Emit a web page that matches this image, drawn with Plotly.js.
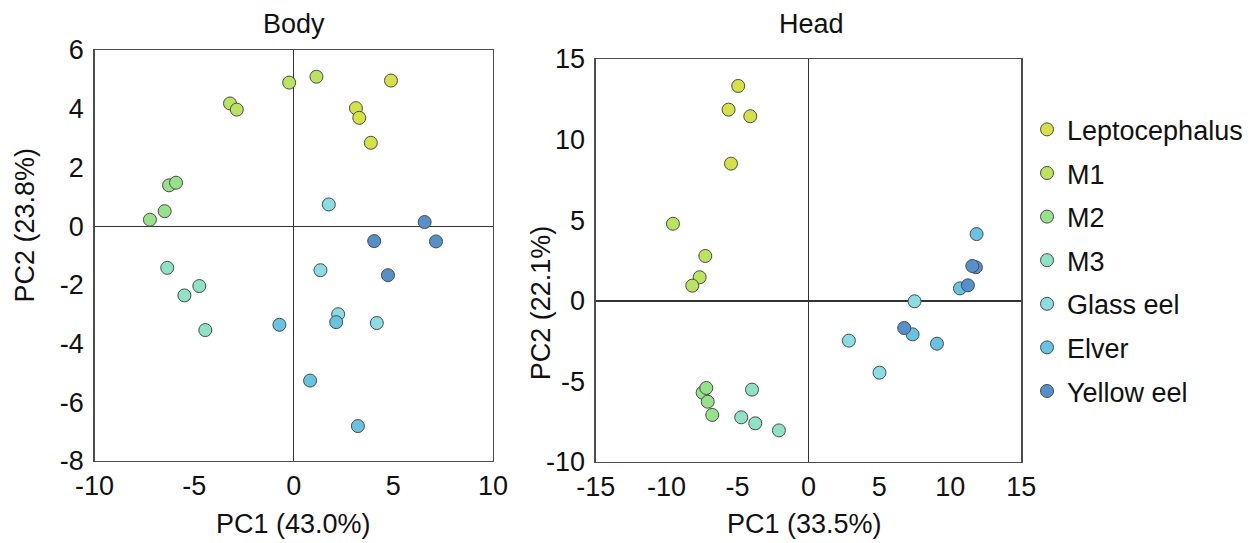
<!DOCTYPE html>
<html>
<head>
<meta charset="utf-8">
<script src="https://cdn.plot.ly/plotly-3.0.1.min.js"></script>
<style>html,body{margin:0;padding:0;background:#fff;}#chart{width:1254px;height:543px;}</style>
</head>
<body>
<div id="chart"></div>
<script>
const groups = ["Leptocephalus", "M1", "M2", "M3", "Glass eel", "Elver", "Yellow eel"];
const groupColors = ["#d6e145", "#bae35f", "#97e18a", "#8fe2c6", "#8adde2", "#68c3e3", "#5690cc"];

// Body PCA scores per group
const bodyPC1 = [
  [4.88, 3.12, 3.29, 3.87],
  [-0.23, 1.14, -3.2, -2.86],
  [-6.26, -5.91, -6.48, -7.22],
  [-6.35, -4.74, -5.49, -4.44],
  [1.76, 1.34, 2.23, 4.17],
  [-0.72, 2.13, 0.82, 3.22],
  [6.57, 4.04, 7.14, 4.73]
];
const bodyPC2 = [
  [4.96, 4.02, 3.69, 2.84],
  [4.89, 5.09, 4.18, 3.97],
  [1.39, 1.48, 0.51, 0.22],
  [-1.42, -2.04, -2.36, -3.54],
  [0.74, -1.50, -3.0, -3.30],
  [-3.36, -3.27, -5.26, -6.81],
  [0.14, -0.51, -0.52, -1.67]
];

// Head PCA scores per group
const headPC1 = [
  [-4.95, -5.63, -4.10, -5.46],
  [-9.55, -7.27, -7.67, -8.19],
  [-7.46, -7.20, -7.10, -6.78],
  [-3.98, -4.74, -3.75, -2.08],
  [7.48, 2.85, 5.01],
  [11.85, 10.68, 7.34, 9.06],
  [11.8, 11.55, 11.24, 6.75]
];
const headPC2 = [
  [13.33, 11.86, 11.45, 8.51],
  [4.78, 2.78, 1.46, 0.94],
  [-5.70, -5.41, -6.26, -7.08],
  [-5.51, -7.23, -7.6, -8.04],
  [-0.03, -2.47, -4.46],
  [4.14, 0.77, -2.08, -2.66],
  [2.08, 2.16, 0.96, -1.69]
];

const bodyXTicks = [-10, -5, 0, 5, 10];
const bodyXLabels = ["-10", "-5", "0", "5", "10"];
const bodyYTicks = [-8, -6, -4, -2, 0, 2, 4, 6];
const bodyYLabels = ["-8", "-6", "-4", "-2", "0", "2", "4", "6"];
const headXTicks = [-15, -10, -5, 0, 5, 10, 15];
const headXLabels = ["-15", "-10", "-5", "0", "5", "10", "15"];
const headYTicks = [-10, -5, 0, 5, 10, 15];
const headYLabels = ["-10", "-5", "0", "5", "10", "15"];

const FONT = "Liberation Sans, Arial, sans-serif";
const FS = 27;
const traces = [];
groups.forEach((g, i) => {
  const marker = {color: groupColors[i], size: 13, line: {color: "#4a4a4a", width: 1}};
  traces.push({type: "scatter", mode: "markers", name: g, legendgroup: g, showlegend: true,
    x: bodyPC1[i], y: bodyPC2[i], xaxis: "x", yaxis: "y", marker: marker});
});
groups.forEach((g, i) => {
  const marker = {color: groupColors[i], size: 13, line: {color: "#4a4a4a", width: 1}};
  traces.push({type: "scatter", mode: "markers", name: g, legendgroup: g, showlegend: false,
    x: headPC1[i], y: headPC2[i], xaxis: "x2", yaxis: "y2", marker: marker});
});

const axisBase = {
  showgrid: false, ticks: "", showline: true, mirror: true, linecolor: "#4d4d4d", linewidth: 1.3,
  zeroline: true, zerolinecolor: "#333", zerolinewidth: 1.3,
  tickfont: {family: FONT, size: FS, color: "#111"}, tickmode: "array", fixedrange: true
};
const tf = {family: FONT, size: FS, color: "#111"};
function ann(text, x, y, angle) {
  return {text: text, x: x, y: y, xref: "paper", yref: "paper", xanchor: "center", yanchor: "middle",
    textangle: angle || 0, showarrow: false, font: tf};
}

const layout = {
  width: 1254, height: 543,
  margin: {l: 0, r: 0, t: 0, b: 0},
  paper_bgcolor: "#fff", plot_bgcolor: "#fff",
  font: {family: FONT, color: "#111"},
  xaxis: Object.assign({}, axisBase, {domain: [0.0754, 0.3931], range: [-10, 10], tickvals: bodyXTicks, ticktext: bodyXLabels,
    ticklabelstandoff: 0, anchor: "y"}),
  yaxis: Object.assign({}, axisBase, {domain: [0.1510, 0.9079], range: [-8, 6], tickvals: bodyYTicks, ticktext: bodyYLabels,
    ticklabelstandoff: 4, anchor: "x"}),
  xaxis2: Object.assign({}, axisBase, {domain: [0.4750, 0.8144], range: [-15, 15], tickvals: headXTicks, ticktext: headXLabels,
    ticklabelstandoff: 0, anchor: "y2"}),
  yaxis2: Object.assign({}, axisBase, {domain: [0.1492, 0.8913], range: [-10, 15], tickvals: headYTicks, ticktext: headYLabels,
    ticklabelstandoff: 4, anchor: "x2", zerolinewidth: 2}),
  showlegend: true,
  legend: {x: 0.819, y: 0.806, xanchor: "left", yanchor: "top", traceorder: "grouped", tracegroupgap: 5.5,
    font: tf, bgcolor: "rgba(0,0,0,0)"},
  annotations: [
    ann("Body", 0.2343, 0.955),
    ann("Head", 0.6473, 0.955),
    ann("PC1 (43.0%)", 0.2337, 0.035),
    ann("PC1 (33.5%)", 0.6419, 0.035),
    ann("PC2 (23.8%)", 0.0203, 0.5856, -90),
    ann("PC2 (22.1%)", 0.4316, 0.4420, -90)
  ]
};

Plotly.newPlot("chart", traces, layout, {staticPlot: true, displayModeBar: false});
</script>
</body>
</html>
